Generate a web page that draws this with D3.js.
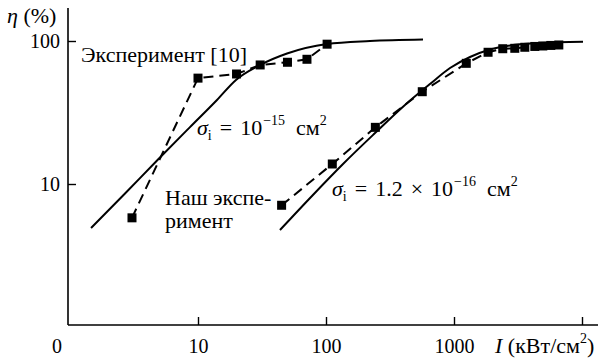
<!DOCTYPE html>
<html><head><meta charset="utf-8">
<script src="https://cdn.jsdelivr.net/npm/d3@7"></script>
<style>
body{margin:0;background:#fff;}
</style></head>
<body><svg id="c" width="599" height="362" font-family="'Liberation Serif', 'Times New Roman', serif"></svg>
<script>
// Data
const xTicks = [10, 100, 1000, 10000];
const xTickLabels = ["10", "100", "1000", ""];
const yTicks = [10, 100];
const yTickLabels = ["10", "100"];

// Experiment [10] (dashed with squares)
const exp10I   = [3.05, 10, 20, 30.6, 50, 71, 102];
const exp10Eta = [5.8, 55, 58.8, 68, 71, 74.5, 95];

// Our experiment (dashed with squares)
const oursI   = [45, 112, 243, 565, 1247, 1846, 2404, 2985, 3575, 4278, 4940, 5706, 6590];
const oursEta = [7.1, 13.8, 24.9, 44.2, 69.8, 83.4, 88.3, 88.9, 90.4, 91.6, 92.3, 93.1, 93.8];

// Calculated curve sigma = 1e-15 cm^2 (solid)
const calc1I   = [1.46, 2.69, 4.87, 8.66, 14.07, 19.8, 30.5, 49.6, 101.8, 220.7, 572.6];
const calc1Eta = [4.92, 8.58, 14.84, 25.0, 38.7, 53.4, 67.9, 81.8, 95.3, 100, 102.4];

// Calculated curve sigma = 1.2e-16 cm^2 (solid)
const calc2I   = [43.7, 77.7, 135.8, 241.5, 414, 649, 931, 1334, 1911, 2738, 4697, 10180];
const calc2Eta = [4.77, 8.25, 13.8, 22.7, 35.7, 50.0, 64.7, 77.3, 87.2, 93.0, 96.8, 98.9];

const svg = d3.select("#c");
const x = d3.scaleLog().domain([1, 10000]).range([70, 582]);
const y = d3.scaleLog().domain([1, 100]).range([327, 41]);
const axisY0 = 325, axisX0 = 68;
const FONT = "'Liberation Serif', 'Times New Roman', serif";

const zip = (a, b) => a.map((v, i) => [v, b[i]]);
const line = d3.line().x(d => x(d[0])).y(d => y(d[1]));
const smooth = d3.line().x(d => x(d[0])).y(d => y(d[1])).curve(d3.curveMonotoneX);

// axes frame
svg.append("line").attr("x1", axisX0).attr("x2", 598).attr("y1", axisY0).attr("y2", axisY0)
  .attr("stroke", "#000").attr("stroke-width", 1.6);
svg.append("line").attr("x1", axisX0).attr("x2", axisX0).attr("y1", 8).attr("y2", axisY0)
  .attr("stroke", "#000").attr("stroke-width", 1.6);

const xa = svg.append("g").attr("transform", `translate(0,${axisY0})`)
  .call(d3.axisBottom(x).tickValues(xTicks).tickSize(-8).tickPadding(14)
    .tickFormat((d, i) => xTickLabels[i]));
xa.attr("font-family", FONT);
xa.select(".domain").remove();
xa.selectAll("line").attr("stroke-width", 1.4);
xa.selectAll("text").attr("font-size", 20);

const ya = svg.append("g").attr("transform", `translate(${axisX0},0)`)
  .call(d3.axisLeft(y).tickValues(yTicks).tickSize(-8).tickPadding(8)
    .tickFormat((d, i) => yTickLabels[i]));
ya.attr("font-family", FONT);
ya.select(".domain").remove();
ya.selectAll("line").attr("stroke-width", 1.4);
ya.selectAll("text").attr("font-size", 20);

svg.append("text").attr("x", x(1) - 13).attr("y", 353).attr("text-anchor", "middle")
  .attr("font-size", 20).text("0");

// curves
svg.append("path").attr("d", smooth(zip(calc1I, calc1Eta))).attr("fill", "none")
  .attr("stroke", "#000").attr("stroke-width", 2);
svg.append("path").attr("d", smooth(zip(calc2I, calc2Eta))).attr("fill", "none")
  .attr("stroke", "#000").attr("stroke-width", 2);

// dashed experiments
[[exp10I, exp10Eta], [oursI, oursEta]].forEach(([a, b]) => {
  const pts = zip(a, b);
  svg.append("path").attr("d", line(pts)).attr("fill", "none")
    .attr("stroke", "#000").attr("stroke-width", 2).attr("stroke-dasharray", "10,6");
  svg.append("g").selectAll("rect").data(pts).join("rect")
    .attr("x", d => x(d[0]) - 4.5).attr("y", d => y(d[1]) - 4.5)
    .attr("width", 9).attr("height", 9).attr("fill", "#000");
});

// labels
const fs = 22;
const t1 = svg.append("text").attr("x", 7).attr("y", 23).attr("font-size", fs);
t1.append("tspan").attr("font-style", "italic").text("η");
t1.append("tspan").text(" (%)");

svg.append("text").attr("x", 81).attr("y", 62).attr("font-size", fs).text("Эксперимент [10]");
svg.append("text").attr("x", 165).attr("y", 205).attr("font-size", fs).text("Наш экспе-");
svg.append("text").attr("x", 165).attr("y", 228).attr("font-size", fs).text("римент");

function sigma(xp, yp, pre, exp) {
  const t = svg.append("text").attr("x", xp).attr("y", yp).attr("font-size", fs);
  t.append("tspan").attr("font-style", "italic").text("σ");
  t.append("tspan").attr("font-size", 14).attr("dy", 5).text("i");
  t.append("tspan").attr("dy", -5).attr("dx", 8).text("=");
  pre.forEach(p => t.append("tspan").attr("dx", 8).text(p));
  t.append("tspan").attr("font-size", 14).attr("dy", -10).attr("dx", 1).text(exp);
  t.append("tspan").attr("dy", 10).attr("dx", 11).text("см");
  t.append("tspan").attr("font-size", 14).attr("dy", -10).text("2");
}
sigma(197, 135, ["10"], "−15");
sigma(332, 196, ["1.2", "×", "10"], "−16");

const xl = svg.append("text").attr("x", 495).attr("y", 353).attr("font-size", fs);
xl.append("tspan").attr("font-style", "italic").text("I");
xl.append("tspan").text(" (кВт/см");
xl.append("tspan").attr("font-size", 14).attr("dy", -10).text("2");
xl.append("tspan").attr("dy", 10).text(")");
</script></body></html>
